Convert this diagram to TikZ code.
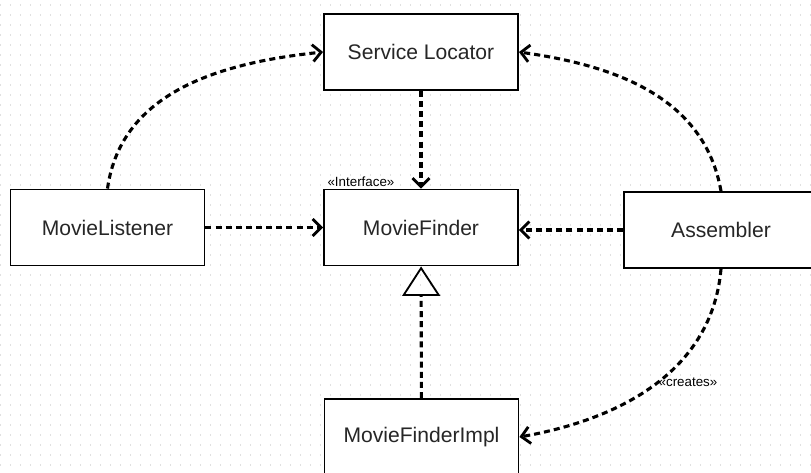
\documentclass[tikz,border=0pt]{standalone}
\usepackage{fontspec}
\setmainfont{Liberation Sans}
\usetikzlibrary{arrows.meta}

\begin{document}
\begin{tikzpicture}[
                x = 0.025cm, y = -0.025cm,
                cls/.style = {draw, line width = 1.3pt, fill = white, text = black!85,
                              minimum width = 4.85cm, minimum height = 1.9cm,
                              inner sep = 0mm, font = \fontsize{15}{18}\selectfont},
                stereo/.style = {inner sep = 0mm, font = \fontsize{9.5}{11}\selectfont},
                dep/.style = {draw, line width = 2.2pt, dash pattern = on 4.3pt off 2.9pt,
                              -{Straight Barb[length = 6pt, width = 12pt, line width = 2pt]}},
                gen/.style = {draw, line width = 2.2pt, dash pattern = on 4.3pt off 2.9pt,
                              -{Triangle[open, length = 21pt, width = 27pt, line width = 1.3pt]}},
            ]
            \clip (0, 0) rectangle (811, 473);
            \fill[white] (0, 0) rectangle (811, 473);

            % dotted background grid
            \foreach \y in {5, 15, ..., 470}
                \draw[black!12, line width = 0.8pt, dash pattern = on 0.8pt off 6.31pt] (0, \y) -- (811, \y);

            \node (SL) at (421, 52) [cls] {Service Locator};
            \node (ML) at (107.5, 227.5) [cls] {MovieListener};
            \node (MF) at (421, 227.5) [cls] {MovieFinder};
            \node (AS) at (721, 230) [cls] {Assembler};
            \node (MFI) at (421.5, 437) [cls] {MovieFinderImpl};

            \node (IF) [stereo, anchor = south west] at ([xshift = 3pt, yshift = 1pt]MF.north west) {«Interface»};
            \node (CR) at (688, 382) [stereo] {«creates»};

            \path[dep] (SL) -- (MF);
            \path[dep] (ML) -- (MF);
            \path[dep] (AS.west) -- (AS.west -| MF.east);
            \path[gen] (MFI) -- (MF);
            \path[dep] (ML.north) to[out = 82, in = 186] (SL.west);
            \path[dep] (AS.north) to[out = 100, in = -8] (SL.east);
            \path[dep] (AS.south) to[out = -95, in = 10] (MFI.east);
        \end{tikzpicture}
\end{document}
